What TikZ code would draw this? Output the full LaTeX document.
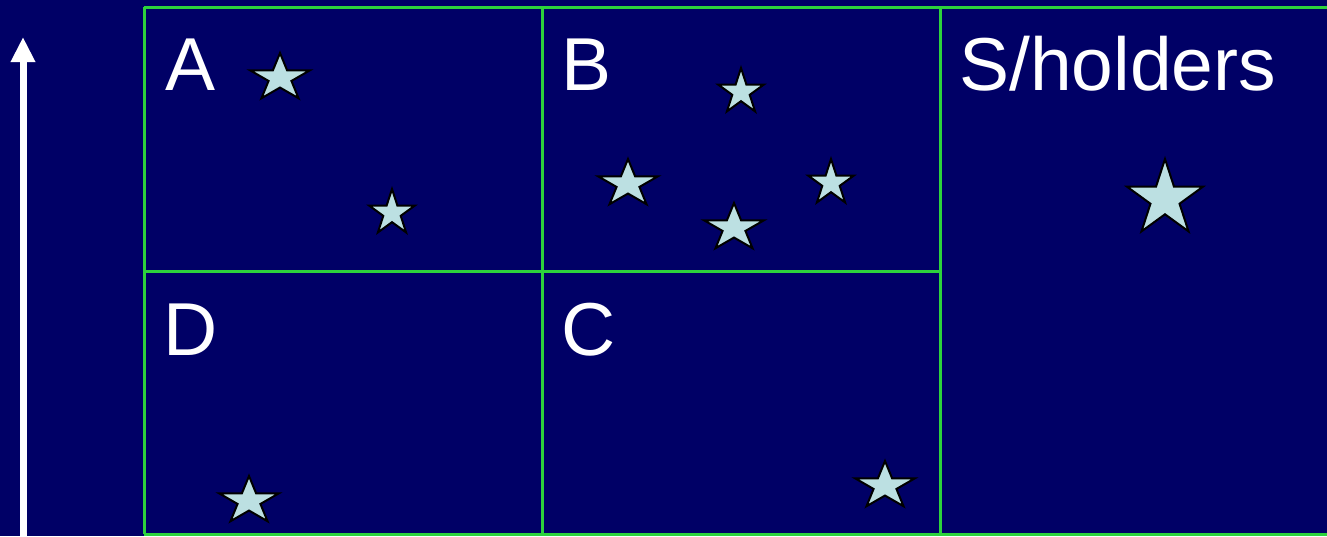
\documentclass[tikz,border=0pt]{standalone}
\usepackage{fontspec}
\setmainfont{Liberation Sans}
\usetikzlibrary{arrows.meta,shapes.geometric}
\definecolor{navy}{RGB}{0,0,102}
\definecolor{gridgreen}{RGB}{45,210,60}
\definecolor{starfill}{RGB}{188,224,226}
\tikzset{
  gridline/.style={draw=gridgreen, line width=3pt},
  quadlabel/.style={anchor=base west, inner sep=0pt, text=white,
    font=\fontsize{75}{80}\selectfont},
  starnode/.style={star, star points=5, star point ratio=2.618, draw=black,
    fill=starfill, line width=2pt, inner sep=0pt, minimum size=48pt},
  widestar/.style={starnode, minimum size=50pt, xscale=1.26},
  bigstar/.style={starnode, minimum size=80pt},
  arr/.style={-{Triangle[length=25pt,width=23pt]}, draw=white, line width=7pt}
}
\begin{document}
\begin{tikzpicture}[x=1pt, y=-1pt]
  \fill[navy] (0,0) rectangle (1327,536);
  \useasboundingbox (0,0) rectangle (1327,536);
  % grid
  \draw[gridline] (144,7) -- (1327,7);
  \draw[gridline] (144,271) -- (940,271);
  \draw[gridline] (144,534) -- (1327,534);
  \draw[gridline] (144,7) -- (144,534);
  \draw[gridline] (542,7) -- (542,534);
  \draw[gridline] (940,7) -- (940,534);
  % labels
  \node[quadlabel] (lblA) at (165,90) {A};
  \node[quadlabel] (lblB) at (561,90) {B};
  \node[quadlabel] (lblS) at (959,90) {S/holders};
  \node[quadlabel] (lblD) at (163,355) {D};
  \node[quadlabel] (lblC) at (561,355) {C};
  % stars
  \node[widestar] (a1) at (280,78) {};
  \node[starnode] (a2) at (392,213) {};
  \node[starnode] (b1) at (741,92) {};
  \node[widestar] (b2) at (628,184) {};
  \node[starnode] (b3) at (831,183) {};
  \node[widestar] (b4) at (734,228) {};
  \node[widestar] (c1) at (885,486) {};
  \node[widestar] (d1) at (249,501) {};
  \node[bigstar] (s1) at (1165,199) {};
  % axis
  \coordinate (axisbot) at (23,536);
  \coordinate (axistop) at (23,37);
  \draw[arr] (axisbot) -- (axistop);
\end{tikzpicture}
\end{document}
